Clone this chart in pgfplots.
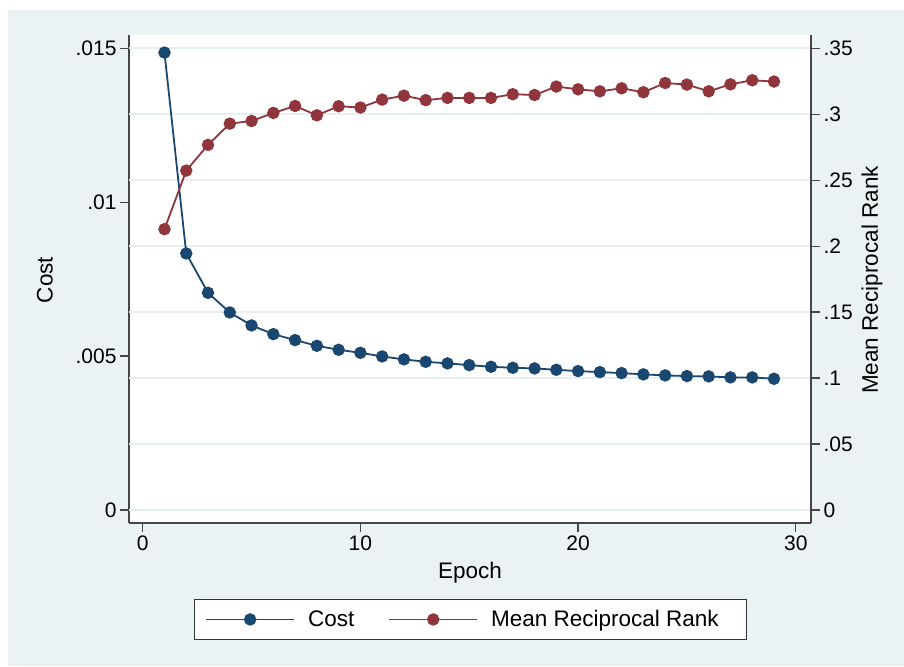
\documentclass[border=0pt]{standalone}
\usepackage{fontspec}
\setmainfont{Liberation Sans}
\usepackage{pgfplots}
\pgfplotsset{compat=1.18}
\definecolor{stnavy}{RGB}{26,71,111}
\definecolor{stmaroon}{RGB}{144,53,59}
\definecolor{stbg}{RGB}{234,242,243}
\definecolor{stgrid}{RGB}{231,239,241}
\definecolor{staxis}{RGB}{70,70,70}
\newcommand{\tickfont}{\fontsize{21}{21}\selectfont}
\newcommand{\labfont}{\fontsize{22.5}{22.5}\selectfont}
\begin{document}
\begin{tikzpicture}[x=1pt,y=1pt]
\fill[white] (0,0) rectangle (904,666);
\fill[stbg] (8,0) rectangle (904,656);
\pgfplotsset{
  stbase/.style={
    at={(129pt,143pt)}, anchor=south west, scale only axis,
    width=682pt, height=488pt,
    xmin=-0.63, xmax=30.7,
    axis line style={-, color=staxis, line width=1.3pt},
    tick align=outside, major tick length=9pt,
    tick style={color=staxis, line width=1.3pt},
    ticklabel style={font=\tickfont, text=black},
    label style={font=\labfont},
    /pgf/number format/assume math mode=true,
    scaled y ticks=false, scaled x ticks=false,
    clip=false,
  },
  costline/.style={color=stnavy, line width=1.8pt, mark=*, mark size=5.3pt, mark options={fill=stnavy, draw=stnavy}},
  mrrline/.style={color=stmaroon, line width=1.8pt, mark=*, mark size=5.3pt, mark options={fill=stmaroon, draw=stmaroon}},
}
\begin{axis}[stbase,
  ymin=-0.000422, ymax=0.015432,
  axis x line*=bottom, axis y line*=left,
  axis background/.style={fill=white},
  xtick={0,10,20,30}, xticklabels={0,10,20,30},
  ytick={0,0.005,0.01,0.015}, yticklabels={0,.005,.01,.015},
  extra y ticks={0,0.00214286,0.00428571,0.00642857,0.00857143,0.01071429,0.01285714,0.015},
  extra y tick labels={},
  extra y tick style={grid=major, major tick length=0pt, tick style={draw=none}},
  grid style={color=stgrid, line width=1.6pt},
  xlabel={Epoch}, ylabel={Cost},
  xlabel style={at={(axis description cs:0.5,-0.1025)}, anchor=center},
  ylabel style={at={(axis description cs:-0.1232,0.498)}, anchor=center},
]
\addplot[costline] coordinates {
(1,0.01486) (2,0.008334) (3,0.007056) (4,0.006418) (5,0.005996) (6,0.005714)
(7,0.00552) (8,0.005335) (9,0.005205) (10,0.005107) (11,0.00499) (12,0.004893)
(13,0.004815) (14,0.004763) (15,0.004708) (16,0.004653) (17,0.00462) (18,0.0046)
(19,0.004555) (20,0.004513) (21,0.00448) (22,0.004448) (23,0.004406) (24,0.004373)
(25,0.004351) (26,0.004341) (27,0.004308) (28,0.004308) (29,0.004263)
};
\end{axis}
\begin{axis}[stbase,
  ymin=-0.00986, ymax=0.3601,
  axis x line=none, axis y line*=right,
  ytick={0,0.05,0.1,0.15,0.2,0.25,0.3,0.35},
  yticklabels={0,.05,.1,.15,.2,.25,.3,.35},
  ylabel={Mean Reciprocal Rank},
  ylabel style={at={(axis description cs:1.0894,0.498)}, anchor=center},
  legend columns=2,
  legend cell align=left,
  legend style={at={(axis description cs:0.5,-0.1977)}, anchor=center,
    draw=black!80, fill=white, font=\labfont,
    inner xsep=11pt, inner ysep=11pt,
    /tikz/every odd column/.append style={column sep=13pt},
    /tikz/every even column/.append style={column sep=34pt},
    nodes={inner sep=0pt}},
  legend image code/.code={\draw[line width=1.8pt, mark repeat=2,mark phase=2] plot coordinates {(0pt,0pt) (44pt,0pt) (88pt,0pt)};},
]
\addlegendimage{costline}
\addlegendentry{Cost}
\addplot[mrrline] coordinates {
(1,0.2129) (2,0.2573) (3,0.2768) (4,0.2929) (5,0.2949) (6,0.3010)
(7,0.3063) (8,0.2992) (9,0.3061) (10,0.3051) (11,0.3111) (12,0.3141)
(13,0.3107) (14,0.3124) (15,0.3124) (16,0.3124) (17,0.3152) (18,0.3146)
(19,0.3210) (20,0.3189) (21,0.3174) (22,0.3197) (23,0.3167) (24,0.3237)
(25,0.3225) (26,0.3174) (27,0.3227) (28,0.3258) (29,0.3248)
};
\addlegendentry{Mean Reciprocal Rank\hspace*{16pt}}
\end{axis}
\pgfresetboundingbox
\path (0,0) rectangle (904,666);
\end{tikzpicture}
\end{document}
